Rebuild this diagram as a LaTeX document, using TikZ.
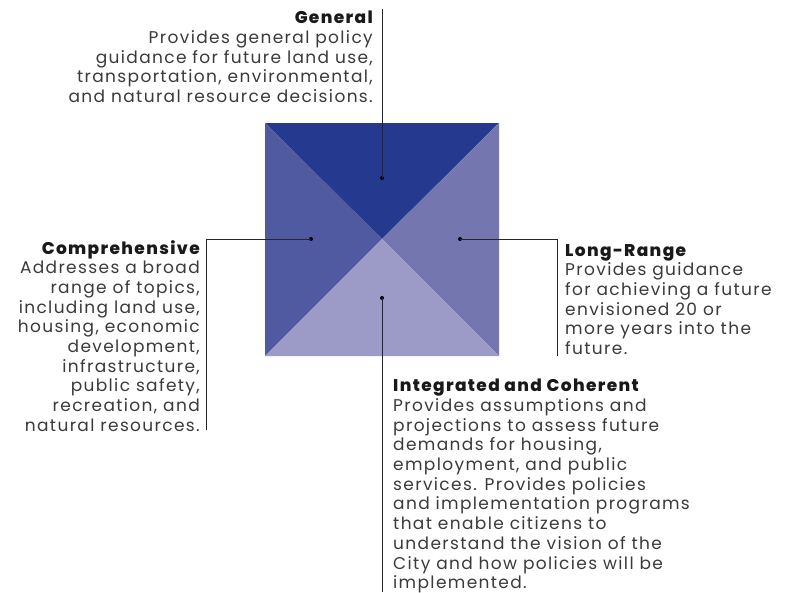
\documentclass[tikz,border=0pt]{standalone}
\usepackage{fontspec}
\setmainfont{Poppins}[LetterSpace=8,BoldFont={Poppins ExtraBold}]
\usetikzlibrary{positioning}
\definecolor{topblue}{HTML}{25398F}
\definecolor{leftblue}{HTML}{4F5AA0}
\definecolor{rightblue}{HTML}{7476B0}
\definecolor{botblue}{HTML}{9C9BC8}
\definecolor{bodygray}{HTML}{3A3A3A}
\tikzset{
  dot/.style={circle,fill=black,inner sep=0pt,minimum size=4pt},
  lead/.style={draw=black!85,line width=0.9pt},
  blurb/.style={inner sep=0pt,text=bodygray,font=\fontsize{17}{19.7}\selectfont},
}
\newcommand{\headline}[1]{{\bfseries\color{black!90}#1}}
\begin{document}
\begin{tikzpicture}[x=1pt,y=-1pt]
                \useasboundingbox (0,0) rectangle (786,592);
                % the square, cut into four triangles
                \coordinate (O) at (382,239);
                \coordinate (NW) at (265,123);
                \coordinate (NE) at (499,123);
                \coordinate (SE) at (499,356);
                \coordinate (SW) at (265,356);
                \fill[topblue] (NW) -- (NE) -- (O) -- cycle;
                \fill[leftblue] (NW) -- (SW) -- (O) -- cycle;
                \fill[rightblue] (NE) -- (SE) -- (O) -- cycle;
                \fill[botblue] (SW) -- (SE) -- (O) -- cycle;

                \path (382,178) node[dot] (gen) {};
                \path (311,239) node[dot] (comp) {};
                \path (460,239) node[dot] (long) {};
                \path (382,298) node[dot] (integ) {};

                \coordinate (gentop) at (382,9);
                \coordinate (compbend) at (206,239);
                \coordinate (compend) at (206,430);
                \coordinate (longbend) at (557,239);
                \coordinate (longend) at (557,356);
                \coordinate (integend) at (382,592);

                \draw[lead] (gen.center) -- (gentop);
                \draw[lead] (comp.center) -- (compbend) -- (compend);
                \draw[lead] (long.center) -- (longbend) -- (longend);
                \draw[lead] (integ.center) -- (integend);

                % texts
                \path (373,11) node[blurb,anchor=north east,align=right] (gentext)
                  {\headline{General}\\ Provides general policy\\ guidance for future land use,\\ transportation, environmental,\\ and natural resource decisions.};
                \path (200,240) node[blurb,anchor=north east,align=right] (comptext)
                  {\headline{Comprehensive}\\ Addresses a broad\\ range of topics,\\ including land use,\\ housing, economic\\ development,\\ infrastructure,\\ public safety,\\ recreation, and\\ natural resources.};
                \path (565,244) node[blurb,anchor=north west,align=left] (longtext)
                  {\headline{Long-Range}\\ Provides guidance\\ for achieving a future\\ envisioned 20 or\\ more years into the\\ future.};
                \path (393,379) node[blurb,anchor=north west,align=left] (integtext)
                  {\headline{Integrated and Coherent}\\ Provides assumptions and\\ projections to assess future\\ demands for housing,\\ employment, and public\\ services. Provides policies\\ and implementation programs\\ that enable citizens to\\ understand the vision of the\\ City and how policies will be\\ implemented.};
              \end{tikzpicture}
\end{document}
